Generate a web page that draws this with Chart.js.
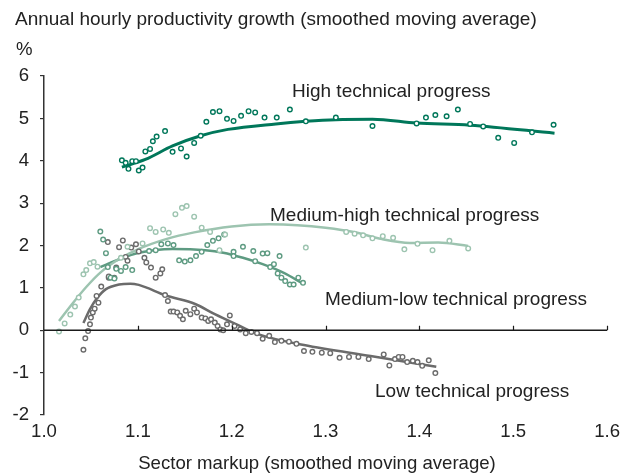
<!DOCTYPE html>
<html>
<head>
<meta charset="utf-8">
<script src="https://cdn.jsdelivr.net/npm/chart.js@4/dist/chart.umd.min.js"></script>
<style>
  html, body { margin: 0; padding: 0; background: #fff; }
  #wrap { width: 626px; height: 476px; position: relative; }
</style>
</head>
<body>
<div id="wrap"><canvas id="c" width="626" height="476"></canvas></div>
<script>
// ---- Data ----
const xTicks = [1.0, 1.1, 1.2, 1.3, 1.4, 1.5, 1.6];
const yTicks = [-2, -1, 0, 1, 2, 3, 4, 5, 6];

const seriesNames = ["High technical progress", "Medium-high technical progress",
                     "Medium-low technical progress", "Low technical progress"];

// High technical progress: scatter
const highX = [1.083, 1.087, 1.090, 1.094, 1.098, 1.101, 1.105, 1.108, 1.113, 1.116, 1.120, 1.129,
               1.137, 1.146, 1.152, 1.160, 1.167, 1.173, 1.180, 1.187, 1.195, 1.202, 1.210, 1.218,
               1.225, 1.235, 1.248, 1.262, 1.279, 1.311, 1.350, 1.397, 1.407, 1.417, 1.429, 1.441,
               1.454, 1.468, 1.484, 1.501, 1.520, 1.543];
const highY = [4.01, 3.95, 3.81, 3.99, 3.99, 3.77, 3.84, 4.22, 4.28, 4.46, 4.57, 4.70,
               4.21, 4.29, 4.10, 4.42, 4.59, 4.92, 5.15, 5.17, 4.99, 4.94, 5.06, 5.17,
               5.14, 5.02, 5.02, 5.21, 4.93, 5.02, 4.82, 4.88, 5.02, 5.08, 5.05, 5.21,
               4.87, 4.81, 4.54, 4.42, 4.67, 4.85];
// High technical progress: fitted curve
const highFitX = [1.083, 1.108, 1.137, 1.167, 1.196, 1.247, 1.279, 1.311, 1.350, 1.397, 1.454, 1.544];
const highFitY = [3.85, 4.03, 4.35, 4.59, 4.74, 4.87, 4.93, 4.97, 4.98, 4.89, 4.84, 4.65];

// Medium-high technical progress: scatter
const mhX = [1.016, 1.022, 1.028, 1.033, 1.037, 1.042, 1.045, 1.049, 1.053, 1.057, 1.082, 1.089,
             1.105, 1.113, 1.119, 1.127, 1.133, 1.140, 1.147, 1.152, 1.160, 1.168, 1.177, 1.187,
             1.193, 1.279, 1.322, 1.331, 1.340, 1.350, 1.361, 1.372, 1.384, 1.398, 1.414, 1.432, 1.452];
const mhY = [-0.03, 0.16, 0.37, 0.56, 0.77, 1.32, 1.42, 1.58, 1.61, 1.50, 1.71, 1.97,
             2.05, 2.41, 2.32, 2.38, 2.30, 2.74, 2.89, 2.93, 2.68, 2.42, 2.32, 1.89,
             2.26, 1.95, 2.32, 2.28, 2.24, 2.17, 2.22, 2.18, 1.91, 2.04, 1.89, 2.11, 1.93];
const mhFitX = [1.016, 1.030, 1.045, 1.060, 1.080, 1.100, 1.130, 1.160, 1.200, 1.240, 1.270,
                1.300, 1.330, 1.360, 1.390, 1.420, 1.452];
const mhFitY = [0.22, 0.62, 1.02, 1.36, 1.68, 1.91, 2.15, 2.31, 2.45, 2.50, 2.48,
                2.42, 2.32, 2.15, 2.06, 2.07, 1.99];

// Medium-low technical progress: scatter
const mlX = [1.060, 1.063, 1.066, 1.068, 1.071, 1.075, 1.077, 1.082, 1.087, 1.094, 1.112, 1.119,
             1.125, 1.132, 1.138, 1.144, 1.150, 1.156, 1.162, 1.168, 1.174, 1.180, 1.186, 1.192,
             1.202, 1.202, 1.212, 1.223, 1.225, 1.233, 1.238, 1.241, 1.245, 1.251, 1.249, 1.253,
             1.257, 1.262, 1.266, 1.271, 1.276];
const mlY = [2.33, 2.14, 1.82, 1.49, 1.24, 1.22, 1.45, 1.40, 1.49, 1.42, 1.87, 1.89,
             2.03, 2.05, 2.01, 1.65, 1.62, 1.65, 1.75, 1.85, 2.01, 2.11, 2.17, 2.26,
             1.85, 1.75, 1.97, 1.87, 1.63, 1.81, 1.82, 1.49, 1.56, 1.75, 1.34, 1.24,
             1.16, 1.08, 1.08, 1.24, 1.12];
const mlFitX = [1.060, 1.077, 1.101, 1.137, 1.172, 1.191, 1.212, 1.233, 1.255, 1.276];
const mlFitY = [1.49, 1.65, 1.83, 1.92, 1.89, 1.83, 1.71, 1.56, 1.36, 1.10];

// Low technical progress: scatter
const lowX = [1.042, 1.044, 1.047, 1.049, 1.050, 1.052, 1.054, 1.056, 1.058, 1.061, 1.068, 1.069,
              1.069, 1.075, 1.077, 1.080, 1.084, 1.087, 1.089, 1.093, 1.098, 1.101, 1.107, 1.109,
              1.114, 1.119, 1.124, 1.126, 1.129, 1.132, 1.135, 1.138, 1.142, 1.145, 1.148, 1.151,
              1.156, 1.160, 1.163, 1.168, 1.172, 1.175, 1.178, 1.182, 1.185, 1.188, 1.191, 1.195,
              1.198, 1.203, 1.209, 1.215, 1.221, 1.227, 1.233, 1.240, 1.246, 1.253, 1.261, 1.269,
              1.277, 1.286, 1.296, 1.305, 1.315, 1.325, 1.335, 1.346, 1.362, 1.368, 1.374, 1.378,
              1.382, 1.387, 1.393, 1.398, 1.403, 1.410, 1.417];
const lowY = [-0.46, -0.19, -0.02, 0.14, 0.30, 0.42, 0.51, 0.81, 0.65, 1.03, 2.08, 1.24,
              1.27, 1.24, 1.48, 1.96, 2.12, 1.73, 1.64, 1.95, 2.03, 1.86, 1.71, 1.60,
              1.48, 1.24, 1.34, 1.44, 0.83, 0.69, 0.44, 0.44, 0.42, 0.34, 0.26, 0.46,
              0.38, 0.51, 0.42, 0.30, 0.28, 0.22, 0.26, 0.18, 0.10, 0.02, 0.00, 0.14,
              0.35, 0.10, 0.02, -0.07, -0.04, -0.07, -0.20, -0.13, -0.28, -0.25, -0.27, -0.32,
              -0.49, -0.51, -0.53, -0.54, -0.65, -0.63, -0.63, -0.68, -0.57, -0.83, -0.68, -0.63,
              -0.63, -0.75, -0.72, -0.75, -0.84, -0.71, -1.01];
const lowFitX = [1.042, 1.049, 1.057, 1.066, 1.080, 1.092, 1.101, 1.130, 1.161, 1.182, 1.207,
                 1.228, 1.277, 1.348, 1.418];
const lowFitY = [0.17, 0.50, 0.77, 0.97, 1.08, 1.10, 1.07, 0.82, 0.62, 0.38, 0.12,
                 -0.09, -0.35, -0.61, -0.86];

// ---- Helpers ----
const zip = (xs, ys) => xs.map((x, i) => ({ x: x, y: ys[i] }));
const colors = ["#00775a", "#9dc4b0", "#5e9b82", "#6b6b6b"];
const FONT = "'Liberation Sans', Arial, Helvetica, sans-serif";
const TEXT = "#222222";
const FS = 18.6;
const LFS = 19;

function scatterDs(xs, ys, col) {
  return { type: 'scatter', data: zip(xs, ys), showLine: false,
           pointRadius: 2.3, pointHoverRadius: 2.3, pointBorderWidth: 1.4,
           pointBorderColor: col, pointBackgroundColor: '#ffffff', borderColor: col };
}
function fitDs(xs, ys, col, w) {
  return { type: 'line', data: zip(xs, ys), showLine: true, pointRadius: 0,
           borderColor: col, borderWidth: w, cubicInterpolationMode: 'monotone', fill: false };
}

const textPlugin = {
  id: 'texts',
  afterDatasetsDraw(chart) {
    const ctx = chart.ctx;
    const xs = chart.scales.x, ys = chart.scales.y;
    // zero line with upward tick marks
    ctx.save();
    ctx.strokeStyle = '#1a1a1a';
    ctx.lineWidth = 1.5;
    const y0 = Math.round(ys.getPixelForValue(0)) + 0.25;
    ctx.beginPath();
    ctx.moveTo(xs.left, y0); ctx.lineTo(xs.right, y0);
    ctx.stroke();
    ctx.lineWidth = 1.2;
    xTicks.slice(1).forEach(v => {
      const px = Math.round(xs.getPixelForValue(v)) + 0.5;
      ctx.beginPath(); ctx.moveTo(px, y0); ctx.lineTo(px, y0 - 4.5); ctx.stroke();
    });
    ctx.restore();
  },
  afterDraw(chart) {
    const ctx = chart.ctx;
    ctx.save();
    ctx.fillStyle = TEXT;
    ctx.textBaseline = 'alphabetic';
    ctx.textAlign = 'left';
    ctx.font = LFS + "px " + FONT;
    ctx.fillText("Annual hourly productivity growth (smoothed moving average)", 15, 25);
    ctx.font = FS + "px " + FONT;
    ctx.fillText("%", 16, 55);
    ctx.font = LFS + "px " + FONT;
    ctx.fillText(seriesNames[0], 292, 97);
    ctx.fillText(seriesNames[1], 270, 221);
    ctx.fillText(seriesNames[2], 325, 305);
    ctx.fillText(seriesNames[3], 375, 397);
    ctx.textAlign = 'center';
    ctx.font = FS + "px " + FONT;
    ctx.fillText("Sector markup (smoothed moving average)", 317, 469);
    ctx.restore();
  }
};

new Chart(document.getElementById('c'), {
  data: {
    datasets: [
      scatterDs(mhX, mhY, colors[1]),
      scatterDs(mlX, mlY, colors[2]),
      scatterDs(lowX, lowY, colors[3]),
      scatterDs(highX, highY, colors[0]),
      fitDs(mhFitX, mhFitY, colors[1], 2.5),
      fitDs(mlFitX, mlFitY, colors[2], 2.5),
      fitDs(lowFitX, lowFitY, colors[3], 2.5),
      fitDs(highFitX, highFitY, colors[0], 3)
    ]
  },
  options: {
    responsive: false,
    animation: false,
    devicePixelRatio: 1,
    layout: { padding: { left: 0, right: 14, top: 76, bottom: 0 } },
    plugins: { legend: { display: false }, tooltip: { enabled: false }, title: { display: false } },
    scales: {
      x: {
        type: 'linear', min: 1.0, max: 1.6,
        afterBuildTicks(scale) { scale.ticks = xTicks.map(v => ({ value: v })); },
        afterFit(scale) { scale.height = 61; },
        border: { display: false },
        grid: { display: false, drawTicks: false },
        ticks: { color: TEXT, font: { family: FONT, size: FS }, padding: 6,
                 maxRotation: 0, autoSkip: false,
                 callback: v => v.toFixed(1) }
      },
      y: {
        type: 'linear', min: -2, max: 6,
        afterBuildTicks(scale) { scale.ticks = yTicks.map(v => ({ value: v })); },
        afterFit(scale) { scale.width = 44; },
        border: { display: true, color: '#333333', width: 1.5 },
        grid: { display: true, drawOnChartArea: false, drawTicks: true, tickLength: 4,
                color: '#333333', lineWidth: 1.2 },
        ticks: { color: TEXT, font: { family: FONT, size: FS }, padding: 11,
                 callback: v => String(v) }
      }
    }
  },
  plugins: [textPlugin]
});
</script>
</body>
</html>
